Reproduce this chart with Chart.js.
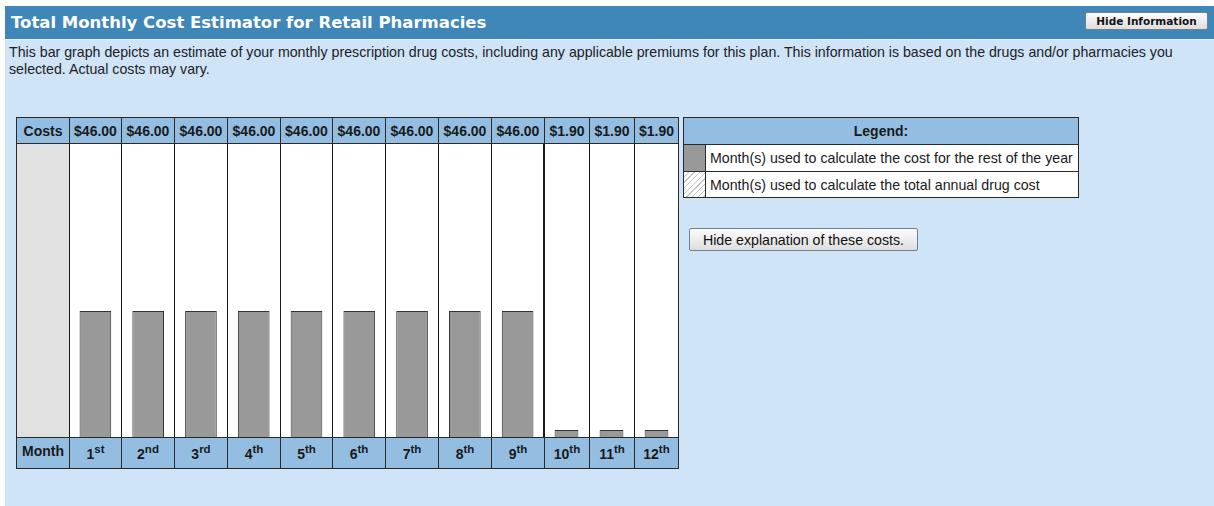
<!DOCTYPE html>
<html>
<head>
<meta charset="utf-8">
<title>Total Monthly Cost Estimator for Retail Pharmacies</title>
<script src="https://cdn.jsdelivr.net/npm/chart.js@4.4.1/dist/chart.umd.min.js"></script>
<style>
  body { margin: 0; width: 1214px; height: 506px; overflow: hidden; background: #fff; font-family: "Liberation Sans", Arial, sans-serif; color: #1a1a1a; }
  #panel { position: absolute; left: 5px; top: 6px; width: 1209px; height: 500px; background: #cfe4f7; }
  #bar { position: absolute; left: 5px; top: 6px; width: 1209px; height: 33px; background: #4087b9; border-bottom: 1px solid #e6f0f9; }
  #title { position: absolute; left: 11px; top: 13px; font: bold 16.5px "DejaVu Sans", Verdana, sans-serif; color: #fff; white-space: nowrap; }
  .btn { position: absolute; box-sizing: border-box; background: linear-gradient(#fcfcfc, #dedede); border: 1px solid #6f7f95; border-radius: 2px; color: #111; display: flex; align-items: center; justify-content: center; white-space: nowrap; }
  #hideInfo { left: 1085px; top: 12px; width: 123px; height: 18px; font: bold 10.5px "DejaVu Sans", Verdana, sans-serif; }
  #hideExpl { left: 689px; top: 228px; width: 229px; height: 23px; font-size: 14.2px; }
  #intro { position: absolute; left: 9px; top: 44px; font-size: 14.2px; line-height: 17px; color: #222; white-space: nowrap; }
  .cell { position: absolute; box-sizing: border-box; border: 1px solid #2a2a2a; display: flex; align-items: center; justify-content: center; font-weight: bold; font-size: 14px; white-space: nowrap; }
  .blue { background: #93bee2; }
  .grey { background: #e1e1e1; }
  .white { background: #fff; }
  .up { padding-bottom: 4px; }
  .num { padding-top: 2px; }
  .leg { background: #fff; justify-content: flex-start; padding-left: 4px; font-weight: normal; font-size: 14.2px; }
  .solid { background: #999; }
  .hatch { background: repeating-linear-gradient(135deg, #fff 0 3px, #c4c4c4 3px 4px); }
  canvas { position: absolute; }
  sup { font-size: 11.5px; line-height: 0; vertical-align: 6px; }
</style>
</head>
<body>
<div id="panel"></div>
<div id="bar"></div>
<div id="title">Total Monthly Cost Estimator for Retail Pharmacies</div>
<div class="btn" id="hideInfo">Hide Information</div>
<div id="intro">This bar graph depicts an estimate of your monthly prescription drug costs, including any applicable premiums for this plan. This information is based on the drugs and/or pharmacies you<br>selected. Actual costs may vary.</div>

<script>
// chart data
const months = ['1', '2', '3', '4', '5', '6', '7', '8', '9', '10', '11', '12'];
const suffixes = ['st', 'nd', 'rd', 'th', 'th', 'th', 'th', 'th', 'th', 'th', 'th', 'th'];
const costs = [46, 46, 46, 46, 46, 46, 46, 46, 46, 1.9, 1.9, 1.9];
const costLabels = ['$46.00', '$46.00', '$46.00', '$46.00', '$46.00', '$46.00', '$46.00', '$46.00', '$46.00', '$1.90', '$1.90', '$1.90'];
const legendLabels = ['Month(s) used to calculate the cost for the rest of the year', 'Month(s) used to calculate the total annual drug cost'];
const splitAt = 9; // months 10-12 get narrower columns

function cell(x0, y0, x1, y1, cls, html) {
    const d = document.createElement('div');
    d.className = 'cell ' + cls;
    d.style.left = x0 + 'px';
    d.style.top = y0 + 'px';
    d.style.width = (x1 - x0 + 1) + 'px';
    d.style.height = (y1 - y0 + 1) + 'px';
    if (html) d.innerHTML = '<span>' + html + '</span>';
    document.body.appendChild(d);
    return d;
}

// column edges follow the chart grid lines
const colEdges = [];
for (let i = 0; i <= splitAt; i++) colEdges.push(69 + Math.round(i * 475 / splitAt - 0.5));
for (let i = 1; i < months.length - splitAt; i++) colEdges.push(544 + Math.round(i * 45 - 0.5));
colEdges.push(678);

cell(69, 143, 678, 437, 'white');
cell(16, 143, 69, 437, 'grey');
cell(16, 117, 69, 143, 'blue', 'Costs');
cell(16, 437, 69, 468, 'blue up', 'Month');
for (let i = 0; i < months.length; i++) {
    cell(colEdges[i], 117, colEdges[i + 1], 143, 'blue', costLabels[i]);
    cell(colEdges[i], 437, colEdges[i + 1], 468, 'blue num', months[i] + '<sup>' + suffixes[i] + '</sup>');
}

// legend
cell(683, 117, 1078, 144, 'blue', 'Legend:');
cell(683, 144, 705, 171, 'solid');
cell(705, 144, 1078, 171, 'leg', legendLabels[0]);
cell(683, 171, 705, 197, 'hatch');
cell(705, 171, 1078, 197, 'leg', legendLabels[1]);

const expl = document.createElement('div');
expl.className = 'btn';
expl.id = 'hideExpl';
expl.textContent = 'Hide explanation of these costs.';
document.body.appendChild(expl);

function barChart(x, w, labels, values, pct) {
    const c = document.createElement('canvas');
    c.width = w;
    c.height = 293;
    c.style.left = x + 'px';
    c.style.top = '144px';
    document.body.appendChild(c);
    new Chart(c, {
        type: 'bar',
        data: {
            labels: labels,
            datasets: [{
                data: values,
                backgroundColor: '#999999',
                borderColor: '#333333',
                borderWidth: 1,
                barPercentage: pct,
                categoryPercentage: 1,
                minBarLength: 7
            }]
        },
        options: {
            responsive: false,
            animation: false,
            layout: { padding: 0 },
            plugins: { legend: { display: false }, tooltip: { enabled: false } },
            scales: {
                x: {
                    grid: { offset: true, color: '#1a1a1a', drawTicks: false },
                    ticks: { display: false },
                    border: { display: false }
                },
                y: { display: false, min: 0, max: 107 }
            }
        }
    });
}

barChart(69, 475, months.slice(0, splitAt), costs.slice(0, splitAt), 0.6);
barChart(544, 135, months.slice(splitAt), costs.slice(splitAt), 0.53);
</script>
</body>
</html>
